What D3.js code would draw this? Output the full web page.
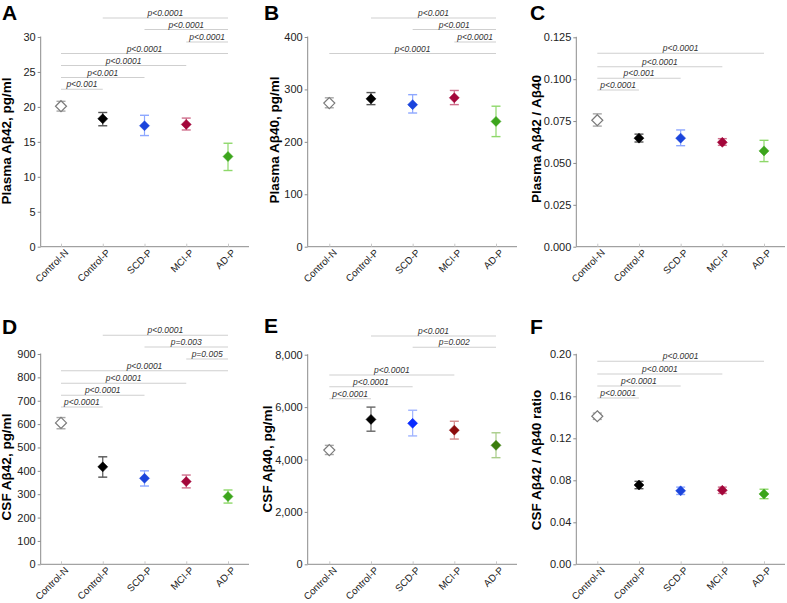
<!DOCTYPE html>
<html><head><meta charset="utf-8">
<script src="https://cdn.jsdelivr.net/npm/d3@7"></script>
<style>
html,body{margin:0;padding:0;background:#fff;}
svg{display:block;font-family:"Liberation Sans",Arial,sans-serif;}
</style></head>
<body><svg id="chart" width="787" height="603"></svg>
<script>
// ---------- data ----------
const categories = ["Control-N","Control-P","SCD-P","MCI-P","AD-P"];

const plasmaAb42      = [20.1, 18.3, 17.3, 17.5, 12.9];
const plasmaAb42Lo    = [19.4, 17.3, 15.9, 16.7, 10.9];
const plasmaAb42Hi    = [20.8, 19.2, 18.8, 18.4, 14.8];

const plasmaAb40      = [274, 282, 271, 284, 239];
const plasmaAb40Lo    = [265, 271, 255, 271, 210];
const plasmaAb40Hi    = [284, 294, 290, 298, 268];

const plasmaRatio     = [0.0755, 0.0648, 0.0648, 0.0623, 0.0572];
const plasmaRatioLo   = [0.0720, 0.0625, 0.0603, 0.0605, 0.0508];
const plasmaRatioHi   = [0.0793, 0.0672, 0.0697, 0.0645, 0.0635];

const csfAb42         = [605, 417, 368, 354, 290];
const csfAb42Lo       = [580, 373, 335, 327, 262];
const csfAb42Hi       = [628, 460, 400, 382, 318];

const csfAb40         = [4360, 5530, 5380, 5120, 4540];
const csfAb40Lo       = [4190, 5080, 4900, 4780, 4070];
const csfAb40Hi       = [4540, 6000, 5880, 5460, 5020];

const csfRatio        = [0.141, 0.0755, 0.0700, 0.0705, 0.0670];
const csfRatioLo      = [0.138, 0.0720, 0.0665, 0.0675, 0.0625];
const csfRatioHi      = [0.144, 0.0790, 0.0735, 0.0735, 0.0715];

const ticksA = [0,5,10,15,20,25,30];
const ticksB = [0,100,200,300,400];
const ticksC = [0,0.025,0.05,0.075,0.1,0.125];
const ticksD = [0,100,200,300,400,500,600,700,800,900];
const ticksE = [0,2000,4000,6000,8000];
const ticksF = [0,0.04,0.08,0.12,0.16,0.20];

// significance comparisons: [from, to, label]
const sigA = [["Control-P","AD-P","p<0.0001"],["SCD-P","AD-P","p<0.0001"],["MCI-P","AD-P","p<0.0001"],
              ["Control-N","AD-P","p<0.0001"],["Control-N","MCI-P","p<0.0001"],["Control-N","SCD-P","p<0.001"],["Control-N","Control-P","p<0.001"]];
const sigB = [["Control-P","AD-P","p<0.001"],["SCD-P","AD-P","p<0.001"],["MCI-P","AD-P","p<0.0001"],["Control-N","AD-P","p<0.0001"]];
const sigC = [["Control-N","AD-P","p<0.0001"],["Control-N","MCI-P","p<0.0001"],["Control-N","SCD-P","p<0.001"],["Control-N","Control-P","p<0.0001"]];
const sigD = [["Control-P","AD-P","p<0.0001"],["SCD-P","AD-P","p=0.003"],["MCI-P","AD-P","p=0.005"],
              ["Control-N","AD-P","p<0.0001"],["Control-N","MCI-P","p<0.0001"],["Control-N","SCD-P","p<0.0001"],["Control-N","Control-P","p<0.0001"]];
const sigE = [["Control-P","AD-P","p<0.001"],["SCD-P","AD-P","p=0.002"],
              ["Control-N","MCI-P","p<0.0001"],["Control-N","SCD-P","p<0.0001"],["Control-N","Control-P","p<0.0001"]];
const sigF = [["Control-N","AD-P","p<0.0001"],["Control-N","MCI-P","p<0.0001"],["Control-N","SCD-P","p<0.0001"],["Control-N","Control-P","p<0.0001"]];

// ---------- styles ----------
const paletteStd = {
  marker: ["#ffffff","#000000","#1b44dc","#a3063a","#3ca51c"],
  stroke: ["#7a7a7a","#000000","#1b44dc","#a3063a","#3ca51c"],
  err:    ["#a8a8a8","#555555","#8ea8ff","#cf6f8c","#8ed86a"]
};
const paletteE = {
  marker: ["#ffffff","#000000","#0a2cff","#8c0c0c","#3b7d0d"],
  stroke: ["#7a7a7a","#000000","#0a2cff","#8c0c0c","#3b7d0d"],
  err:    ["#a8a8a8","#666666","#9fb3ff","#d48a8a","#a8cc88"]
};

const panels = [
  {letter:"A", lx:2,   ly:20,  ax:40.7,  c0:61,    c1:228,  xEnd:249,   yTop:37,  yBot:246.7, dom:[0,30],    ticks:ticksA, fmt:d3.format("d"),
   label:"Plasma Aβ42, pg/ml", labX:11, labY:141, v:plasmaAb42, lo:plasmaAb42Lo, hi:plasmaAb42Hi, sig:sigA,
   sigY:[18,29.5,42,53.5,65.5,77.5,89.3], pal:paletteStd},
  {letter:"B", lx:264, ly:20,  ax:307.7, c0:329.3, c1:496,  xEnd:517,   yTop:37,  yBot:246.7, dom:[0,400],   ticks:ticksB, fmt:d3.format("d"),
   label:"Plasma Aβ40, pg/ml", labX:279, labY:140, v:plasmaAb40, lo:plasmaAb40Lo, hi:plasmaAb40Hi, sig:sigB,
   sigY:[18,29.5,42,53.5], pal:paletteStd},
  {letter:"C", lx:530, ly:20,  ax:576.3, c0:597.3, c1:764,  xEnd:785,   yTop:37.3,yBot:246.7, dom:[0,0.125], ticks:ticksC, fmt:d3.format(".3f"),
   label:"Plasma Aβ42 / Aβ40", labX:541, labY:139, v:plasmaRatio, lo:plasmaRatioLo, hi:plasmaRatioHi, sig:sigC,
   sigY:[53.3,66.7,78.3,90], pal:paletteStd},
  {letter:"D", lx:2,   ly:334, ax:40.7,  c0:61,    c1:228,  xEnd:249,   yTop:354, yBot:564.3, dom:[0,900],   ticks:ticksD, fmt:d3.format("d"),
   label:"CSF Aβ42, pg/ml", labX:11, labY:467, v:csfAb42, lo:csfAb42Lo, hi:csfAb42Hi, sig:sigD,
   sigY:[335.3,347,359,370.7,383.3,395.3,407], pal:paletteStd},
  {letter:"E", lx:264, ly:333, ax:307.7, c0:329.3, c1:496,  xEnd:517,   yTop:354.7,yBot:564.3,dom:[0,8000],  ticks:ticksE, fmt:d3.format(","),
   label:"CSF Aβ40, pg/ml", labX:272, labY:459, v:csfAb40, lo:csfAb40Lo, hi:csfAb40Hi, sig:sigE,
   sigY:[336,347.3,375,386.7,398.7], pal:paletteE},
  {letter:"F", lx:530, ly:334, ax:576.3, c0:597.3, c1:764,  xEnd:785,   yTop:354.3,yBot:564.3,dom:[0,0.20],  ticks:ticksF, fmt:d3.format(".2f"),
   label:"CSF Aβ42 / Aβ40 ratio", labX:541, labY:460, v:csfRatio, lo:csfRatioLo, hi:csfRatioHi, sig:sigF,
   sigY:[361.3,374,386,398], pal:paletteStd}
];

const svg = d3.select("#chart");
const axisColor = "#8c8c8c";

panels.forEach(p => {
  const g = svg.append("g");
  const x = d3.scalePoint().domain(categories).range([p.c0, p.c1]);
  const y = d3.scaleLinear().domain(p.dom).range([p.yBot, p.yTop]);

  // panel letter
  g.append("text").attr("x", p.lx).attr("y", p.ly).text(p.letter)
    .attr("font-size", 21).attr("font-weight", "bold").attr("fill", "#000");

  // y axis
  const ya = g.append("g").attr("transform", `translate(${p.ax},0)`)
    .call(d3.axisLeft(y).tickValues(p.ticks).tickFormat(p.fmt).tickSize(3).tickPadding(2));
  ya.select(".domain").attr("stroke", axisColor).attr("d", `M-0,${p.yBot}V${p.yTop - 0.5}`);
  ya.selectAll(".tick line").attr("stroke", axisColor);
  ya.selectAll(".tick text").attr("font-size", 11).attr("fill", "#222")
    .attr("font-family", "'Liberation Sans',Arial,sans-serif");

  // x axis
  const xa = g.append("g").attr("transform", `translate(0,${p.yBot})`)
    .call(d3.axisBottom(x).tickSize(-3).tickSizeOuter(0).tickPadding(6));
  xa.select(".domain").attr("stroke", axisColor).attr("d", `M${p.ax},0H${p.xEnd}`);
  xa.selectAll(".tick line").attr("stroke", "#c8c8c8");
  xa.selectAll(".tick text")
    .attr("font-size", 9.8).attr("fill", "#222")
    .attr("font-family", "'Liberation Sans',Arial,sans-serif")
    .attr("text-anchor", "end")
    .attr("dy", null).attr("y", 0).attr("x", 0)
    .attr("transform", "translate(2.5,1.5) rotate(-45)")
    .attr("dominant-baseline", "hanging");

  // y label
  g.append("text")
    .attr("transform", `translate(${p.labX},${p.labY}) rotate(-90)`)
    .attr("text-anchor", "middle")
    .attr("font-size", 13.5).attr("font-weight", "bold").attr("fill", "#000")
    .text(p.label);

  // significance brackets
  p.sig.forEach((s, i) => {
    const yy = p.sigY[i];
    const xa0 = x(s[0]), xa1 = x(s[1]);
    g.append("line").attr("x1", xa0).attr("x2", xa1).attr("y1", yy).attr("y2", yy)
      .attr("stroke", "#cfcfcf").attr("stroke-width", 1.1);
    g.append("text").attr("x", (xa0 + xa1) / 2).attr("y", yy - 2)
      .attr("text-anchor", "middle").attr("font-size", 8.5).attr("font-style", "italic")
      .attr("fill", "#333").text(s[2]);
  });

  // error bars + markers
  categories.forEach((c, i) => {
    const cx = x(c);
    const col = p.pal.err[i];
    const yl = y(p.lo[i]), yh = y(p.hi[i]);
    g.append("line").attr("x1", cx).attr("x2", cx).attr("y1", yl).attr("y2", yh)
      .attr("stroke", col).attr("stroke-width", 1.2);
    [yl, yh].forEach(yy => g.append("line").attr("x1", cx - 4.5).attr("x2", cx + 4.5)
      .attr("y1", yy).attr("y2", yy).attr("stroke", col).attr("stroke-width", 1.4));
    const cy = y(p.v[i]);
    const r = i === 0 ? 5.5 : 5;
    g.append("path")
      .attr("d", `M${cx},${cy - r}L${cx + r},${cy}L${cx},${cy + r}L${cx - r},${cy}Z`)
      .attr("fill", p.pal.marker[i])
      .attr("stroke", p.pal.stroke[i]).attr("stroke-width", i === 0 ? 1.2 : 0.5);
  });
});
</script>
</body></html>
